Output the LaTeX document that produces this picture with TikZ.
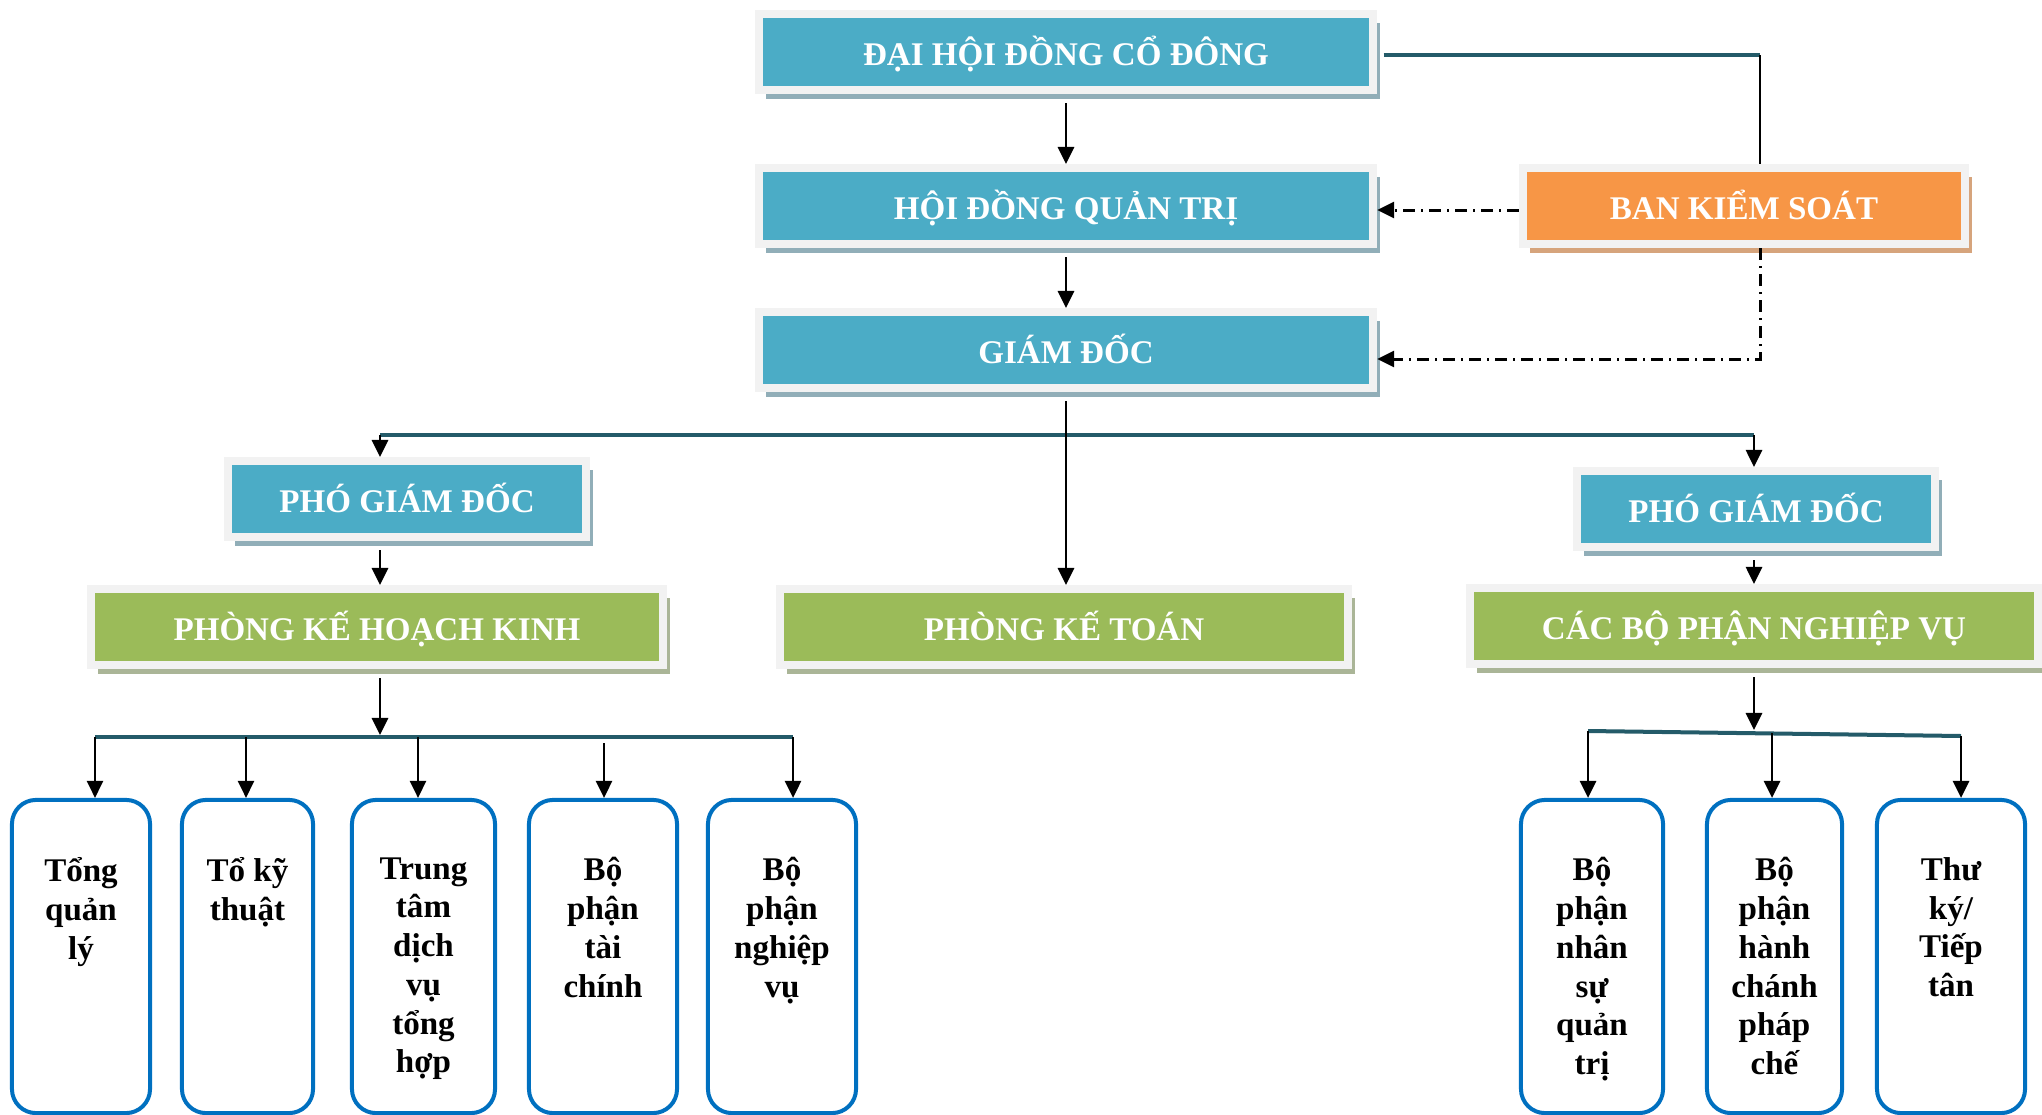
\documentclass[tikz,border=0pt]{standalone}
\usepackage{fontspec}
\setmainfont{Liberation Serif}
\usepackage{xcolor}
\usepackage{tikz}
\usetikzlibrary{arrows.meta,shadows}

\definecolor{aqua}{HTML}{4BACC6}
\definecolor{peach}{HTML}{F79646}
\definecolor{leafgreen}{HTML}{9BBB59}
\definecolor{framegray}{HTML}{F2F2F2}
\definecolor{shblue}{HTML}{91AEB8}
\definecolor{shpeach}{HTML}{D6A47C}
\definecolor{shgreen}{HTML}{AAB597}
\definecolor{busline}{HTML}{245B69}
\definecolor{unitblue}{HTML}{0070C0}

\begin{document}
\begin{tikzpicture}[
  x=0.01cm, y=-0.01cm,
  hdr/.style={draw=framegray, line width=0.08cm, text=white, inner sep=0pt,
    minimum height=0.76cm, text height=0.28cm, text depth=0.02cm,
    font=\fontsize{9.4}{11}\selectfont\bfseries},
  bluebox/.style={hdr, fill=aqua,
    drop shadow={shadow xshift=0.07cm, shadow yshift=-0.09cm, fill=shblue, opacity=1}},
  peachbox/.style={hdr, fill=peach,
    drop shadow={shadow xshift=0.07cm, shadow yshift=-0.09cm, fill=shpeach, opacity=1}},
  greenbox/.style={hdr, fill=leafgreen,
    drop shadow={shadow xshift=0.07cm, shadow yshift=-0.09cm, fill=shgreen, opacity=1}},
  unit/.style={draw=unitblue, line width=0.04cm, rounded corners=0.24cm,
    minimum height=3.13cm, inner sep=0pt},
  utext/.style={anchor=north, align=center, inner sep=0pt,
    font=\fontsize{9.4}{11}\selectfont\bfseries,
    execute at begin node={\rule{0pt}{0.35cm}}},
  tip/.style={-{Triangle[width=0.16cm,length=0.17cm]}},
  arr/.style={tip, line width=0.028cm},
  bus/.style={draw=busline, line width=0.04cm},
  dd/.style={tip, line width=0.03cm,
    dash pattern=on 0.12cm off 0.06cm on 0.02cm off 0.06cm},
]
\useasboundingbox (0,0) rectangle (2042,1115);

% top of the chart
\node[bluebox, minimum width=6.13cm] (dh) at (1066,52) {ĐẠI HỘI ĐỒNG CỔ ĐÔNG};
\node[bluebox, minimum width=6.14cm] (hdqt) at (1066,206) {HỘI ĐỒNG QUẢN TRỊ};
\node[bluebox, minimum width=6.14cm] (gd) at (1066,350) {GIÁM ĐỐC};
\node[peachbox, minimum width=4.42cm] (bks) at (1744,206) {BAN KIỂM SOÁT};

\node[bluebox, minimum width=3.58cm] (pgd1) at (407,499) {PHÓ GIÁM ĐỐC};
\node[bluebox, minimum width=3.58cm] (pgd2) at (1756,509) {PHÓ GIÁM ĐỐC};

\node[greenbox, minimum width=5.71cm] (pkh) at (377,627) {PHÒNG KẾ HOẠCH KINH};
\node[greenbox, minimum width=5.68cm] (pkt) at (1064,627) {PHÒNG KẾ TOÁN};
\node[greenbox, minimum width=5.68cm] (cbp) at (1754,626) {CÁC BỘ PHẬN NGHIỆP VỤ};

% units
\node[unit, minimum width=1.38cm] (u1) at (81,956.5) {};
\node[unit, minimum width=1.31cm] (u2) at (247.5,956.5) {};
\node[unit, minimum width=1.43cm] (u3) at (423.5,956.5) {};
\node[unit, minimum width=1.48cm] (u4) at (603,956.5) {};
\node[unit, minimum width=1.48cm] (u5) at (782,956.5) {};
\node[unit, minimum width=1.42cm] (u6) at (1592,956.5) {};
\node[unit, minimum width=1.35cm] (u7) at (1774.5,956.5) {};
\node[unit, minimum width=1.48cm] (u8) at (1951,956.5) {};

\node[utext] (t1) at ([yshift=-0.59cm]u1.north) {Tổng\\quản\\lý};
\node[utext] (t2) at ([yshift=-0.59cm]u2.north) {Tổ kỹ\\thuật};
\node[utext] (t3) at ([yshift=-0.59cm]u3.north) {Trung\\tâm\\dịch\\vụ\\tổng\\hợp};
\node[utext] (t4) at ([yshift=-0.59cm]u4.north) {Bộ\\phận\\tài\\chính};
\node[utext] (t5) at ([yshift=-0.59cm]u5.north) {Bộ\\phận\\nghiệp\\vụ};
\node[utext] (t6) at ([yshift=-0.59cm]u6.north) {Bộ\\phận\\nhân\\sự\\quản\\trị};
\node[utext] (t7) at ([yshift=-0.59cm]u7.north) {Bộ\\phận\\hành\\chánh\\pháp\\chế};
\node[utext] (t8) at ([yshift=-0.59cm]u8.north) {Thư\\ký/\\Tiếp\\tân};

% connectors
\coordinate (k1) at (1760,55);
\coordinate (k2) at (1760,359);
\draw[arr, shorten <=0.09cm] (dh) -- (hdqt);
\draw[arr, shorten <=0.09cm] (hdqt) -- (gd);
\draw[bus, shorten <=0.07cm] (dh.east |- k1) -- (k1);
\draw[line width=0.028cm] (k1) -- (k1 |- bks.north);
\draw[dd] ([yshift=-0.04cm]bks.west) -- ([yshift=-0.04cm]hdqt.east);
\draw[dd] (k1 |- bks.south) -- (k2) -- (k2 -| gd.east);

\coordinate (b1) at (380,435);
\coordinate (b2) at (1754,435);
\draw[bus] (b1) -- (b2);
\draw[arr, shorten <=0.09cm] (gd.south) -- (gd.south |- pkt.north);
\draw[arr] (b1) -- (b1 |- pgd1.north);
\draw[arr] (b2) -- (b2 |- pgd2.north);
\draw[arr, shorten <=0.09cm] (b1 |- pgd1.south) -- (b1 |- pkh.north);
\draw[arr, shorten <=0.09cm] (b2 |- pgd2.south) -- (b2 |- cbp.north);

\coordinate (c1) at (380,735);
\coordinate (d1) at (95,737);
\coordinate (d2) at (246,737);
\coordinate (d3) at (418,737);
\coordinate (d4) at (604,743);
\coordinate (d5) at (793,737);
\draw[arr, shorten <=0.09cm] (c1 |- pkh.south) -- (c1);
\draw[bus] (d1) -- (d5);
\draw[arr] (d1) -- (d1 |- u1.north);
\draw[arr] (d2) -- (d2 |- u2.north);
\draw[arr] (d3) -- (d3 |- u3.north);
\draw[arr] (d4) -- (d4 |- u4.north);
\draw[arr] (d5) -- (d5 |- u5.north);

\coordinate (c2) at (1754,730);
\coordinate (e1) at (1588,731);
\coordinate (e2) at (1772,733);
\coordinate (e3) at (1961,736);
\draw[arr, shorten <=0.09cm] (c2 |- cbp.south) -- (c2);
\draw[bus] (e1) -- (e3);
\draw[arr] (e1) -- (e1 |- u6.north);
\draw[arr] (e2) -- (e2 |- u7.north);
\draw[arr] (e3) -- (e3 |- u8.north);
\end{tikzpicture}
\end{document}
